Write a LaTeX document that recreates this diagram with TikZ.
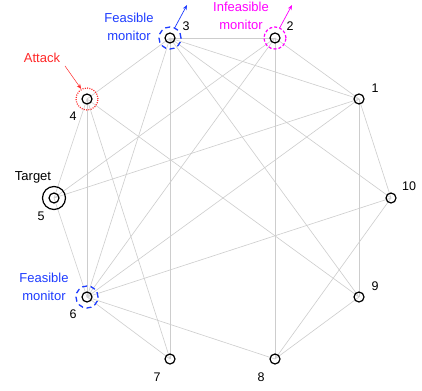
\documentclass[tikz,border=0pt]{standalone}
\usepackage{fontspec}
\setmainfont{Liberation Sans}
\usetikzlibrary{arrows.meta,backgrounds}
\definecolor{fblue}{RGB}{30,60,255}
\definecolor{imag}{RGB}{255,0,255}
\definecolor{ared}{RGB}{255,40,40}
\definecolor{egray}{RGB}{205,205,205}
\begin{document}
\begin{tikzpicture}[x=1pt,y=-1pt,
  vtx/.style={circle,draw=black,line width=1.2pt,minimum size=10pt,inner sep=0pt},
  edge/.style={draw=egray,line width=0.6pt},
  lbl/.style={font=\fontsize{12.5}{15}\selectfont,inner sep=0pt},
  txt/.style={font=\fontsize{13}{18}\selectfont,align=center,inner sep=0pt},
  feas/.style={circle,draw=fblue,line width=1.3pt,dash pattern=on 5pt off 3.5pt,minimum size=22pt,inner sep=0pt},
  infeas/.style={circle,draw=imag,line width=1.2pt,dash pattern=on 3pt off 2pt,minimum size=22pt,inner sep=0pt},
  atk/.style={circle,draw=ared,line width=1.2pt,dash pattern=on 1pt off 1.3pt,minimum size=22pt,inner sep=0pt},
  tip/.style={-{Stealth[length=5pt,width=4pt]},line width=0.7pt}]
\useasboundingbox (0,0) rectangle (422,390);
% vertices
\node[vtx] (n1) at (359,99) {};
\node[vtx] (n2) at (275,38) {};
\node[vtx] (n3) at (170,38) {};
\node[vtx] (n4) at (87,99) {};
\node[vtx] (n5) at (54,198) {};
\node[vtx,minimum size=23pt] (t5) at (54,198) {};
\node[vtx] (n6) at (87,297) {};
\node[vtx] (n7) at (170,359) {};
\node[vtx] (n8) at (275,359) {};
\node[vtx] (n9) at (359,297) {};
\node[vtx] (n10) at (391,198) {};
% edges
\begin{scope}[on background layer]
\fill[white] (0,0) rectangle (422,390);
\foreach \a/\b in {1/2,1/3,1/5,1/6,1/9,1/10,2/3,2/5,2/6,2/8,3/4,3/6,3/7,3/9,3/10,4/5,4/6,4/7,4/9,5/6,6/7,6/8,6/10,8/9,8/10}
  \draw[edge] (n\a.center) -- (n\b.center);
\end{scope}
% rings
\node[feas] (r3) at (n3) {};
\node[feas] (r6) at (n6) {};
\node[infeas] (r2) at (n2) {};
\node[atk] (r4) at (n4) {};
% number labels
\node[lbl] (l1) at (375,88) {1};
\node[lbl] (l2) at (290,26) {2};
\node[lbl] (l3) at (186,26) {3};
\node[lbl] (l4) at (73,116) {4};
\node[lbl] (l5) at (41,216) {5};
\node[lbl] (l6) at (73,314) {6};
\node[lbl] (l7) at (157,377) {7};
\node[lbl] (l8) at (261,377) {8};
\node[lbl] (l9) at (375,286) {9};
\node[lbl] (l10) at (409,186) {10};
% text labels
\node[txt,text=fblue] (f3) at (129,27) {Feasible\\monitor};
\node[txt,text=imag] (f2) at (241,16) {Infeasible\\monitor};
\node[txt,text=fblue] (f6) at (44,287) {Feasible\\monitor};
\node[txt,text=ared] (att) at (42,58) {Attack};
\node[txt] (tg) at (33,177) {Target};
% arrows
\coordinate (a3) at (187,5);
\coordinate (a2) at (292,5);
\draw[tip,fblue] (r3.65) -- (a3);
\draw[tip,imag] (r2.65) -- (a2);
\draw[tip,ared,line width=0.5pt] (65,66) -- (r4.120);
\end{tikzpicture}
\end{document}
